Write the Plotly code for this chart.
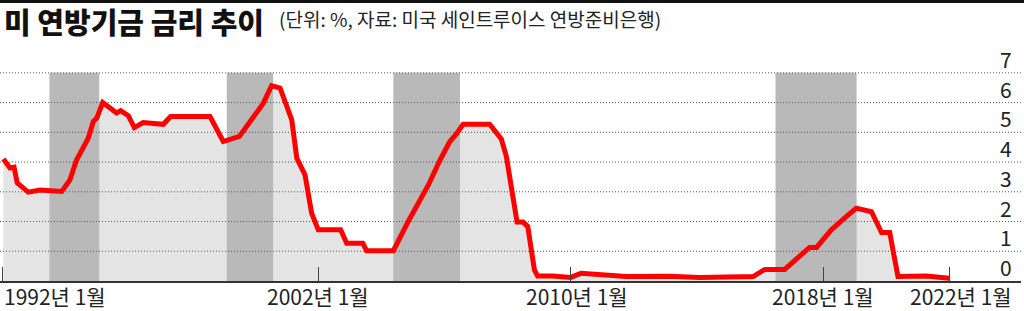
import plotly.graph_objects as go

# ---- data ----
dates = [1992.02, 1992.23, 1992.36, 1992.46, 1992.81, 1993.18, 1993.87, 1994.13,
         1994.34, 1994.71, 1994.87, 1994.98, 1995.17, 1995.61, 1995.74, 1995.98,
         1996.17, 1996.45, 1997.09, 1997.32, 1998.57, 1998.99, 1999.50, 2000.26,
         2000.52, 2000.79, 2001.16, 2001.32, 2001.58, 2001.79, 2002.00, 2002.71,
         2002.90, 2003.41, 2003.53, 2004.38, 2004.85, 2005.49, 2005.86, 2006.17,
         2006.36, 2006.59, 2007.43, 2007.80, 2007.96, 2008.17, 2008.30, 2008.49,
         2008.64, 2008.85, 2008.95, 2009.43, 2010.00, 2010.33, 2011.76, 2013.13,
         2014.08, 2015.78, 2016.15, 2016.78, 2017.26, 2017.57, 2017.79, 2018.26,
         2018.74, 2019.05, 2019.53, 2019.85, 2020.11, 2020.37, 2021.27, 2022.00]
rates = [4.10, 3.80, 3.83, 3.30, 2.99, 3.06, 3.01, 3.40,
         4.07, 4.80, 5.36, 5.48, 6.00, 5.65, 5.73, 5.56,
         5.16, 5.33, 5.27, 5.53, 5.53, 4.69, 4.86, 5.98,
         6.57, 6.49, 5.42, 4.13, 3.57, 2.28, 1.72, 1.72,
         1.27, 1.27, 1.02, 1.02, 2.00, 3.23, 4.07, 4.69,
         4.92, 5.27, 5.27, 4.78, 4.19, 2.73, 1.98, 1.98,
         1.83, 0.37, 0.17, 0.17, 0.12, 0.26, 0.15, 0.16,
         0.12, 0.15, 0.39, 0.39, 0.82, 1.13, 1.13, 1.72,
         2.17, 2.45, 2.33, 1.63, 1.63, 0.15, 0.17, 0.09]

band_starts = [1993.48, 1999.10, 2004.38, 2016.49]
band_ends = [1995.06, 2000.57, 2006.49, 2019.06]

y_ticks = [0, 1, 2, 3, 4, 5, 6, 7]
x_ticks = [1992, 2002, 2010, 2018, 2022]
x_tick_labels = ["1992년 1월", "2002년 1월", "2010년 1월", "2018년 1월", "2022년 1월"]

title_text = "미 연방기금 금리 추이"
subtitle_text = "(단위: %, 자료: 미국 세인트루이스 연방준비은행)"

# ---- layout constants ----
W, H = 1024, 311
ML, MR, MT, MB = 0, 3, 55, 30
X_RANGE = [1991.914, 2024.27]
Y_RANGE = [0, 7.6]
FONT = "Noto Sans CJK KR"
PLOT_H = H - MT - MB
PLOT_W = W - ML - MR

fig = go.Figure()

# light fill under the curve
fig.add_trace(go.Scatter(x=dates, y=rates, mode="lines", line=dict(width=0),
                         fill="tozeroy", fillcolor="#e4e4e4", hoverinfo="skip",
                         showlegend=False))

# dark vertical bands
bx, by = [], []
top = max(y_ticks)
for s, e in zip(band_starts, band_ends):
    bx += [s, e, e, s, s, None]
    by += [0, 0, top, top, 0, None]
fig.add_trace(go.Scatter(x=bx, y=by, mode="lines", line=dict(width=0),
                         fill="toself", fillcolor="#b9b9b9", hoverinfo="skip",
                         showlegend=False))

# dotted grid lines (drawn over the fills)
gx, gy = [], []
for v in y_ticks[1:]:
    gx += [X_RANGE[0], X_RANGE[1], None]
    gy += [v, v, None]
fig.add_trace(go.Scatter(x=gx, y=gy, mode="lines",
                         line=dict(color="#555555", width=1, dash="1px,2px"),
                         hoverinfo="skip", showlegend=False))

# red rate line
fig.add_trace(go.Scatter(x=dates, y=rates, mode="lines",
                         line=dict(color="#ff0000", width=5),
                         showlegend=False))

annotations = []
# y labels (placed above each grid line, right side)
for v in y_ticks:
    annotations.append(dict(x=1, xref="paper", y=v, yref="y", text=str(v),
                            xanchor="right", yanchor="middle", xshift=-7, yshift=14,
                            showarrow=False, font=dict(family=FONT, size=21, color="#222222")))
# x labels
x_anchor = ["left", "center", "center", "center", "center"]
x_shift = [0, 0, 6, 0, 12]
for xv, txt, anc, sh in zip(x_ticks, x_tick_labels, x_anchor, x_shift):
    annotations.append(dict(x=xv, xref="x", y=0, yref="paper", text=txt,
                            xanchor=anc, yanchor="middle", xshift=sh, yshift=-15,
                            borderpad=0,
                            showarrow=False, font=dict(family=FONT, size=21, color="#222222")))
# title + subtitle
annotations.append(dict(x=0, xref="paper", y=(PLOT_H + MT - 21) / PLOT_H, yref="paper",
                        text=title_text, xanchor="left", yanchor="middle",
                        xshift=2, showarrow=False,
                        font=dict(family=FONT, size=29, color="#111111", weight=900)))
annotations.append(dict(x=277 / PLOT_W, xref="paper", y=(PLOT_H + MT - 18) / PLOT_H, yref="paper",
                        text=subtitle_text, xanchor="left", yanchor="middle",
                        showarrow=False,
                        font=dict(family=FONT, size=19, color="#222222")))

fig.update_layout(
    width=W, height=H,
    margin=dict(l=ML, r=MR, t=MT, b=MB, pad=0),
    paper_bgcolor="white", plot_bgcolor="white",
    showlegend=False,
    annotations=annotations,
    shapes=[dict(type="rect", xref="paper", yref="paper",
                 x0=-0.01, x1=1.01,
                 y0=(PLOT_H + MT - 3) / PLOT_H, y1=(PLOT_H + MT + 2) / PLOT_H,
                 fillcolor="#111111", line=dict(width=0))],
    xaxis=dict(range=X_RANGE, showgrid=False, zeroline=False,
               showline=True, linecolor="#333333", linewidth=1.5,
               ticks="inside", ticklen=14, tickcolor="#444444", tickwidth=1,
               tickvals=x_ticks, showticklabels=False, fixedrange=True),
    yaxis=dict(range=Y_RANGE, showgrid=False, zeroline=False, showline=False,
               showticklabels=False, ticks="", fixedrange=True),
)

fig.write_html("out.html", config={"displayModeBar": False})
